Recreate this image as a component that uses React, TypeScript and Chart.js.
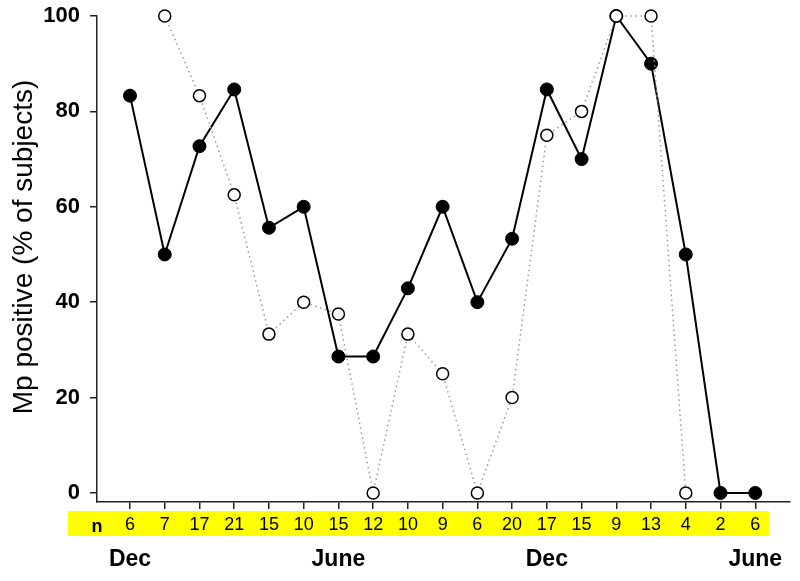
import React, { useEffect, useRef } from 'react';
import { Chart, registerables } from 'chart.js';
Chart.register(...registerables);

const nValues = [6, 7, 17, 21, 15, 10, 15, 12, 10, 9, 6, 20, 17, 15, 9, 13, 4, 2, 6];
const filledPct = [83.3, 50, 72.7, 84.6, 55.6, 60, 28.6, 28.6, 42.9, 60, 40, 53.3, 84.6, 70, 100, 90, 50, 0, 0];
const openPct = [null, 100, 83.3, 62.5, 33.3, 40, 37.5, 0, 33.3, 25, 0, 20, 75, 80, 100, 100, 0, null, null];
const yTicks = [0, 20, 40, 60, 80, 100];
const monthLabels = ['Dec', 'June', 'Dec', 'June'];
const monthIndex = [0, 6, 12, 18];
const yTitle = 'Mp positive (% of subjects)';
const nLabel = 'n';

const SANS = "'Liberation Sans', Arial, Helvetica, sans-serif";

export default function App() {
  const ref = useRef<HTMLCanvasElement>(null);

  useEffect(() => {
    if (!ref.current) return;

    const decorPlugin = {
      id: 'decor',
      beforeDraw(chart: any) {
        const ctx = chart.ctx;
        ctx.save();
        ctx.fillStyle = '#ffff00';
        ctx.fillRect(68, 511, 701, 25);
        ctx.restore();
      },
      afterDraw(chart: any) {
        const ctx = chart.ctx;
        ctx.save();
        ctx.fillStyle = '#000';
        ctx.font = `bold 18px ${SANS}`;
        ctx.textAlign = 'center';
        ctx.textBaseline = 'alphabetic';
        ctx.fillText(nLabel, 97, 532);
        ctx.translate(32, 247);
        ctx.rotate(-Math.PI / 2);
        ctx.font = `28px ${SANS}`;
        ctx.textBaseline = 'alphabetic';
        ctx.fillText(yTitle, 0, 0);
        ctx.restore();
      },
    };

    const noPadX = (h: number) => (s: any) => {
      s.height = h;
      s.paddingLeft = 0;
      s.paddingRight = 0;
    };

    const chart = new Chart(ref.current, {
      type: 'line',
      data: {
        datasets: [
          {
            label: 'filled',
            data: filledPct.map((v, i) => ({ x: i, y: v })),
            borderColor: '#000',
            borderWidth: 2,
            backgroundColor: '#000',
            pointBackgroundColor: '#000',
            pointBorderColor: '#000',
            pointBorderWidth: 1,
            pointRadius: 6.5,
            tension: 0,
            clip: false,
            order: 1,
          },
          {
            label: 'open',
            data: openPct.map((v, i) => ({ x: i, y: v })),
            borderColor: '#9a9a9a',
            borderWidth: 1.5,
            borderDash: [1.5, 3.5],
            backgroundColor: '#fff',
            pointBackgroundColor: '#fff',
            pointBorderColor: '#000',
            pointBorderWidth: 1.5,
            pointRadius: 6,
            tension: 0,
            clip: false,
            spanGaps: false,
            order: 0,
          },
        ],
      },
      options: {
        responsive: false,
        animation: false,
        layout: { padding: { top: 16, right: 10, left: 0, bottom: 0 } },
        plugins: { legend: { display: false }, tooltip: { enabled: false } },
        scales: {
          x: {
            type: 'linear',
            position: 'bottom',
            min: -0.95,
            max: 19,
            weight: 0,
            afterBuildTicks: (s: any) => {
              s.ticks = nValues.map((_, i) => ({ value: i }));
            },
            afterFit: noPadX(40),
            grid: { drawOnChartArea: false, drawTicks: true, tickLength: 7, color: '#222', lineWidth: 1.5 },
            border: { display: true, color: '#222', width: 1.5 },
            ticks: {
              autoSkip: false,
              maxRotation: 0,
              padding: 5,
              color: '#000',
              font: { family: SANS, size: 18 },
              callback: (v: any) => String(nValues[Math.round(Number(v))] ?? ''),
            },
          },
          x2: {
            type: 'linear',
            axis: 'x',
            position: 'bottom',
            min: -0.95,
            max: 19,
            weight: 1,
            afterBuildTicks: (s: any) => {
              s.ticks = monthIndex.map((i) => ({ value: i }));
            },
            afterFit: noPadX(39),
            grid: { display: false, drawTicks: false },
            border: { display: false },
            ticks: {
              autoSkip: false,
              maxRotation: 0,
              padding: 4,
              color: '#000',
              font: { family: SANS, size: 23, weight: 'bold' },
              callback: (v: any) => monthLabels[monthIndex.indexOf(Math.round(Number(v)))] ?? '',
            },
          },
          y: {
            type: 'linear',
            min: -1.9,
            max: 100,
            afterBuildTicks: (s: any) => {
              s.ticks = yTicks.map((v) => ({ value: v }));
            },
            afterFit: (s: any) => {
              s.width = 97;
              s.paddingTop = 0;
              s.paddingBottom = 0;
            },
            grid: { drawOnChartArea: false, drawTicks: true, tickLength: 7, color: '#222', lineWidth: 1.5 },
            border: { display: true, color: '#222', width: 1.5 },
            ticks: {
              padding: 10,
              color: '#000',
              font: { family: SANS, size: 22, weight: 'bold' },
            },
          },
        },
      },
      plugins: [decorPlugin],
    });

    return () => chart.destroy();
  }, []);

  return (
    <canvas
      ref={ref}
      width={800}
      height={581}
      style={{ position: 'absolute', left: 0, top: 0, display: 'block', background: '#fff' }}
    />
  );
}
